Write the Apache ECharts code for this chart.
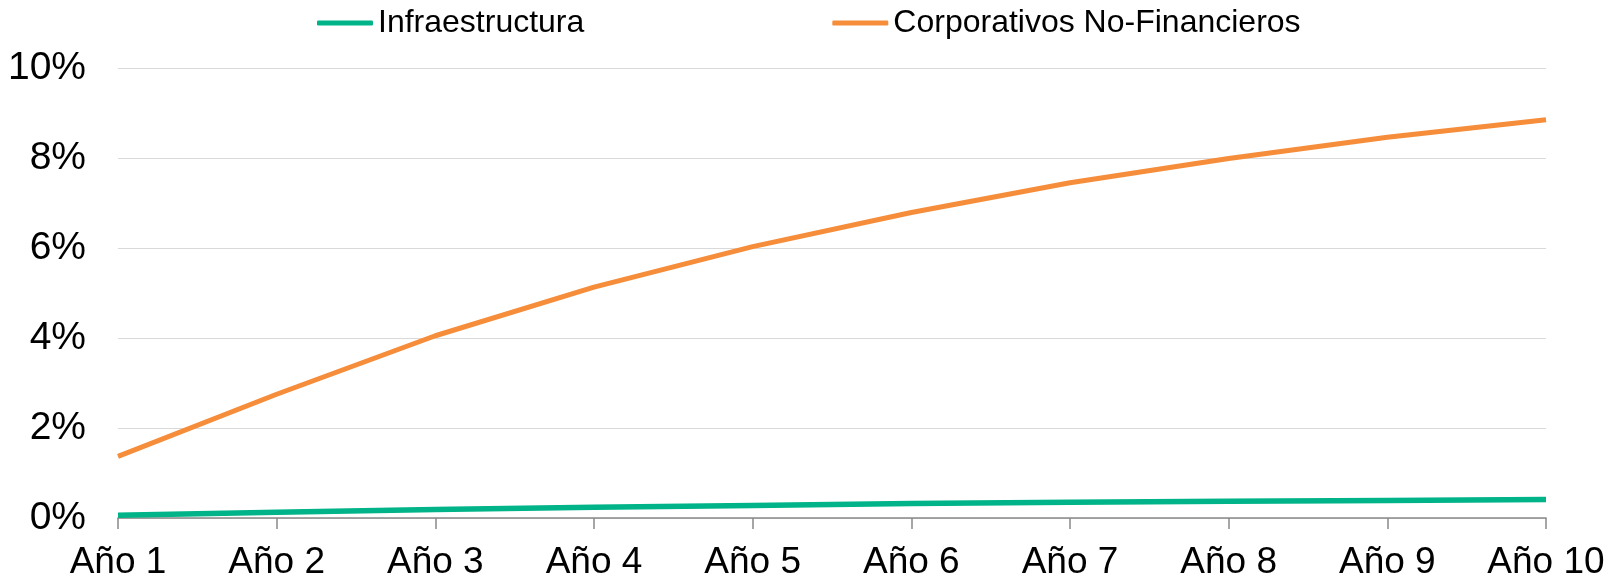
<!DOCTYPE html>
<html>
<head>
<meta charset="utf-8">
<script src="https://cdn.jsdelivr.net/npm/echarts@6/dist/echarts.min.js"></script>
<style>
  html, body { margin: 0; padding: 0; background: #fff; }
  #chart { width: 1616px; height: 581px; }
</style>
</head>
<body>
<div id="chart"></div>
<script>
const categories = ['Año 1', 'Año 2', 'Año 3', 'Año 4', 'Año 5', 'Año 6', 'Año 7', 'Año 8', 'Año 9', 'Año 10']
const infraestructura = [0.06, 0.13, 0.19, 0.24, 0.28, 0.32, 0.35, 0.37, 0.39, 0.41]
const corporativos = [1.37, 2.75, 4.05, 5.13, 6.03, 6.79, 7.45, 7.99, 8.46, 8.85]
const yTicks = { min: 0, max: 10, interval: 2 }

const fontFamily = '"Liberation Sans", Arial, sans-serif'
const chart = echarts.init(document.getElementById('chart'))

const option = {
  animation: false,
  grid: {
    left: 118,
    right: 70,
    top: 68,
    bottom: 62.5
  },
  legend: {
    left: 317,
    top: 7,
    padding: 0,
    itemGap: 248,
    itemWidth: 56,
    itemHeight: 5,
    icon: 'roundRect',
    textStyle: {
      fontFamily: fontFamily,
      fontSize: 32,
      color: '#000'
    },
    data: ['Infraestructura', 'Corporativos No-Financieros']
  },
  xAxis: {
    type: 'category',
    boundaryGap: false,
    data: categories,
    axisLine: {
      lineStyle: { color: '#898989', width: 1.5 }
    },
    axisTick: {
      show: true,
      length: 11,
      lineStyle: { color: '#898989', width: 1.5 }
    },
    axisLabel: {
      interval: 0,
      margin: 26,
      fontFamily: fontFamily,
      fontSize: 37,
      color: '#000'
    },
    splitLine: { show: false }
  },
  yAxis: {
    type: 'value',
    min: yTicks.min,
    max: yTicks.max,
    interval: yTicks.interval,
    axisLine: { show: false },
    axisTick: { show: false },
    axisLabel: {
      margin: 32,
      formatter: '{value}%',
      fontFamily: fontFamily,
      fontSize: 39,
      color: '#000'
    },
    splitLine: {
      lineStyle: { color: '#d9d9d9', width: 1.2 }
    }
  },
  series: [
    {
      name: 'Infraestructura',
      type: 'line',
      data: infraestructura,
      symbol: 'none',
      color: '#00b388',
      lineStyle: { width: 5.5, color: '#00b388' }
    },
    {
      name: 'Corporativos No-Financieros',
      type: 'line',
      data: corporativos,
      symbol: 'none',
      color: '#f68d3a',
      lineStyle: { width: 5, color: '#f68d3a' }
    }
  ]
}
option && chart.setOption(option)
</script>
</body>
</html>
